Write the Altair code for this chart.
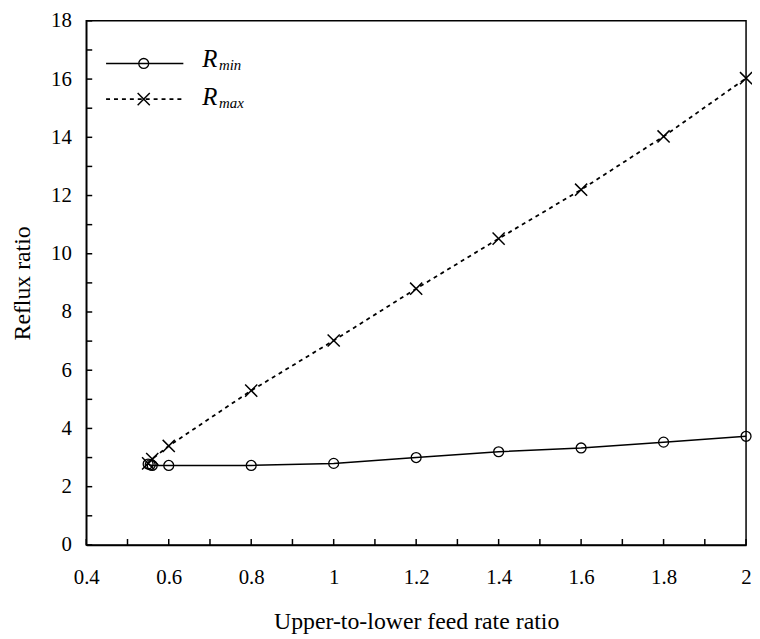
import altair as alt
import pandas as pd

# Data
x_min = [0.55, 0.555, 0.56, 0.6, 0.8, 1.0, 1.2, 1.4, 1.6, 1.8, 2.0]
r_min = [2.78, 2.75, 2.73, 2.73, 2.73, 2.8, 3.0, 3.2, 3.33, 3.53, 3.73]
x_max = [0.55, 0.56, 0.6, 0.8, 1.0, 1.2, 1.4, 1.6, 1.8, 2.0]
r_max = [2.8, 2.95, 3.4, 5.3, 7.02, 8.8, 10.52, 12.2, 14.03, 16.03]
x_ticks = [round(0.4 + 0.1 * i, 1) for i in range(17)]
y_ticks = list(range(0, 19))
x_labels = [0.4, 0.6, 0.8, 1.0, 1.2, 1.4, 1.6, 1.8, 2.0]
y_labels = list(range(0, 20, 2))

W, H = 666, 529
FONT = "Times New Roman"
CROSS = "M-1,-1L1,1M-1,1L1,-1"

df_min = pd.DataFrame({"x": x_min, "y": r_min})
df_max = pd.DataFrame({"x": x_max, "y": r_max})

xs = alt.Scale(domain=[0.4, 2.0], nice=False, zero=False)
ys = alt.Scale(domain=[0, 18], nice=False)

x_axis = alt.Axis(values=x_labels, tickSize=0, labelPadding=39, labelBaseline="alphabetic",
                  labelFontSize=21, labelFont=FONT, labelColor="black", grid=False,
                  title="Upper-to-lower feed rate ratio", titleFont=FONT,
                  titleFontSize=24, titleFontWeight="normal", titleColor="black",
                  titleBaseline="alphabetic", titleY=84, labelFlush=False,
                  labelExpr="datum.value == 1 ? '1' : datum.value == 2 ? '2' : datum.label")
y_axis = alt.Axis(values=y_labels, tickSize=0, labelPadding=15, labelFontSize=21,
                  labelFont=FONT, labelColor="black", grid=False,
                  title="Reflux ratio", titleFont=FONT, titleFontSize=24,
                  titleFontWeight="normal", titleColor="black",
                  titleBaseline="alphabetic", titleX=-57, titleY=H / 2,
                  labelFlush=False)

X = alt.X("x:Q", scale=xs, axis=x_axis)
Y = alt.Y("y:Q", scale=ys, axis=y_axis)

line_min = alt.Chart(df_min).mark_line(color="black", strokeWidth=1.5).encode(x=X, y=Y)
pts_min = alt.Chart(df_min).mark_point(shape="circle", filled=False, color="black",
                                       size=100, strokeWidth=1.3, opacity=1).encode(x=X, y=Y)
line_max = alt.Chart(df_max).mark_line(color="black", strokeWidth=1.8,
                                       strokeDash=[4, 4]).encode(x=X, y=Y)
pts_max = alt.Chart(df_max).mark_point(shape=CROSS, filled=False, color="black",
                                       size=150, strokeWidth=1.5, opacity=1).encode(x=X, y=Y)

# Inward tick marks
xt = alt.Chart(pd.DataFrame({"x": x_ticks})).mark_rule(color="black", strokeWidth=1.5).encode(
    x=X, y=alt.value(H), y2=alt.value(H - 6))
yt = alt.Chart(pd.DataFrame({"y": y_ticks})).mark_rule(color="black", strokeWidth=1.5).encode(
    y=Y, x=alt.value(0), x2=alt.value(6))

# Legend
dummy = pd.DataFrame({"a": [0]})
leg_line1 = alt.Chart(dummy).mark_rule(color="black", strokeWidth=1.5).encode(
    x=alt.value(20), x2=alt.value(98), y=alt.value(43))
leg_pt1 = alt.Chart(dummy).mark_point(shape="circle", filled=False, color="black",
                                      size=100, strokeWidth=1.3, opacity=1).encode(
    x=alt.value(58), y=alt.value(43))
leg_line2 = alt.Chart(dummy).mark_rule(color="black", strokeWidth=1.8, strokeDash=[4, 4]).encode(
    x=alt.value(20), x2=alt.value(98), y=alt.value(79))
leg_pt2 = alt.Chart(dummy).mark_point(shape=CROSS, filled=False, color="black",
                                      size=150, strokeWidth=1.5, opacity=1).encode(
    x=alt.value(58), y=alt.value(79))
txt_kw = dict(font=FONT, fontStyle="italic", color="black", align="left", baseline="alphabetic")
leg_R1 = alt.Chart(dummy).mark_text(fontSize=25, **txt_kw).encode(
    x=alt.value(117), y=alt.value(47), text=alt.value("R"))
leg_s1 = alt.Chart(dummy).mark_text(fontSize=15, **txt_kw).encode(
    x=alt.value(134), y=alt.value(50), text=alt.value("min"))
leg_R2 = alt.Chart(dummy).mark_text(fontSize=25, **txt_kw).encode(
    x=alt.value(117), y=alt.value(85), text=alt.value("R"))
leg_s2 = alt.Chart(dummy).mark_text(fontSize=15, **txt_kw).encode(
    x=alt.value(134), y=alt.value(88), text=alt.value("max"))

chart = alt.layer(
    line_min, line_max, pts_min, pts_max, xt, yt,
    leg_line1, leg_pt1, leg_line2, leg_pt2, leg_R1, leg_s1, leg_R2, leg_s2,
).properties(
    width=W, height=H,
    autosize=alt.AutoSizeParams(type="none"),
    padding={"left": 79, "top": 10, "right": 6, "bottom": 92},
    background="white",
).configure(
    font=FONT
).configure_view(
    stroke="black", strokeWidth=1.5
).configure_axis(
    domainColor="black", domainWidth=1.5
)

chart.save("out.html", embed_options={"renderer": "svg", "actions": False})
